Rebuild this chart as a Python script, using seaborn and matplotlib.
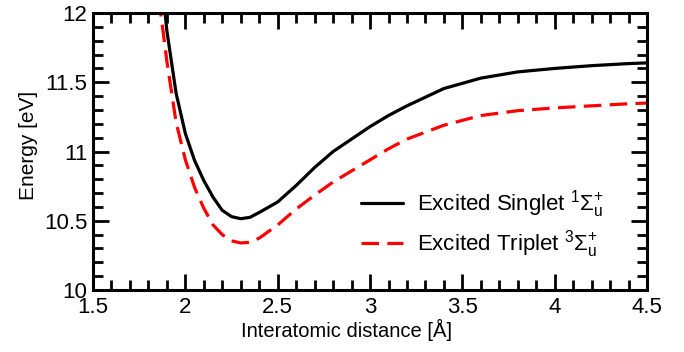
import matplotlib
matplotlib.use("Agg")
import matplotlib.pyplot as plt
from matplotlib.ticker import MultipleLocator, FuncFormatter
import pandas as pd
import seaborn as sns

# Interatomic distance grid (Å)
distance = [1.85, 1.88, 1.9, 1.95, 2.0, 2.05, 2.1, 2.15, 2.2, 2.25, 2.3, 2.35, 2.4,
            2.5, 2.6, 2.7, 2.8, 2.9, 3.0, 3.1, 3.2, 3.4, 3.6, 3.8, 4.0, 4.2, 4.4, 4.5]

# Potential energy curves (eV)
singlet_energy = [12.55, 12.13, 11.87, 11.42, 11.13, 10.935, 10.79, 10.67, 10.575, 10.53,
                  10.515, 10.525, 10.56, 10.636, 10.755, 10.885, 11.0, 11.09, 11.18, 11.26,
                  11.33, 11.455, 11.53, 11.575, 11.60, 11.62, 11.635, 11.64]
triplet_energy = [12.16, 11.86, 11.65, 11.21, 10.94, 10.74, 10.59, 10.47, 10.40, 10.355,
                  10.34, 10.345, 10.375, 10.47, 10.585, 10.685, 10.78, 10.86, 10.94, 11.02,
                  11.09, 11.19, 11.26, 11.295, 11.315, 11.33, 11.345, 11.35]

state_labels = [r"Excited Singlet $^{1}\Sigma_{\mathrm{u}}^{+}$",
                r"Excited Triplet $^{3}\Sigma_{\mathrm{u}}^{+}$"]

df = pd.concat([
    pd.DataFrame({"distance": distance, "energy": singlet_energy, "state": state_labels[0]}),
    pd.DataFrame({"distance": distance, "energy": triplet_energy, "state": state_labels[1]}),
])

sns.set_theme(style="ticks")
plt.rcParams["font.family"] = ["Liberation Sans", "DejaVu Sans"]
plt.rcParams["mathtext.fontset"] = "custom"
plt.rcParams["mathtext.rm"] = "Liberation Sans"
plt.rcParams["mathtext.it"] = "Liberation Sans"
plt.rcParams["mathtext.bf"] = "Liberation Sans:bold"
plt.rcParams["text.color"] = "black"
plt.rcParams["axes.labelcolor"] = "black"

fig = plt.figure(figsize=(6.84, 3.52), dpi=100)
ax = fig.add_axes([0.136, 0.176, 0.810, 0.787])

sns.lineplot(data=df, x="distance", y="energy", hue="state", style="state",
             palette={state_labels[0]: "black", state_labels[1]: "#ff0000"},
             dashes={state_labels[0]: "", state_labels[1]: (5.5, 2.6)},
             linewidth=2.3, ax=ax, sort=False)

ax.set_xlim(1.5, 4.5)
ax.set_ylim(10, 12)
ax.xaxis.set_major_locator(MultipleLocator(0.5))
ax.xaxis.set_minor_locator(MultipleLocator(0.1))
ax.yaxis.set_major_locator(MultipleLocator(0.5))
ax.yaxis.set_minor_locator(MultipleLocator(0.1))
ax.xaxis.set_major_formatter(FuncFormatter(lambda v, p: f"{v:g}"))
ax.yaxis.set_major_formatter(FuncFormatter(lambda v, p: f"{v:g}"))

ax.tick_params(which="both", direction="in", top=True, right=True, width=2.0,
               colors="black", labelsize=16)
ax.tick_params(which="major", length=11.5, pad=4)
ax.tick_params(which="minor", length=7.5)
ax.tick_params(axis="x", which="major", pad=5)
for s in ax.spines.values():
    s.set_linewidth(2.2)
    s.set_color("black")

ax.set_xlabel("Interatomic distance [Å]", fontsize=14.5)
ax.xaxis.set_label_coords(0.458, -0.105)
ax.set_ylabel("Energy [eV]", fontsize=15)
ax.yaxis.set_label_coords(-0.1, 0.523)

leg = ax.legend(loc="center left", bbox_to_anchor=(0.484, 0.238), frameon=False,
                fontsize=16, handlelength=1.9, handletextpad=0.63, labelspacing=0.37,
                borderpad=0, borderaxespad=0)

fig.savefig("out.png", dpi=100)
